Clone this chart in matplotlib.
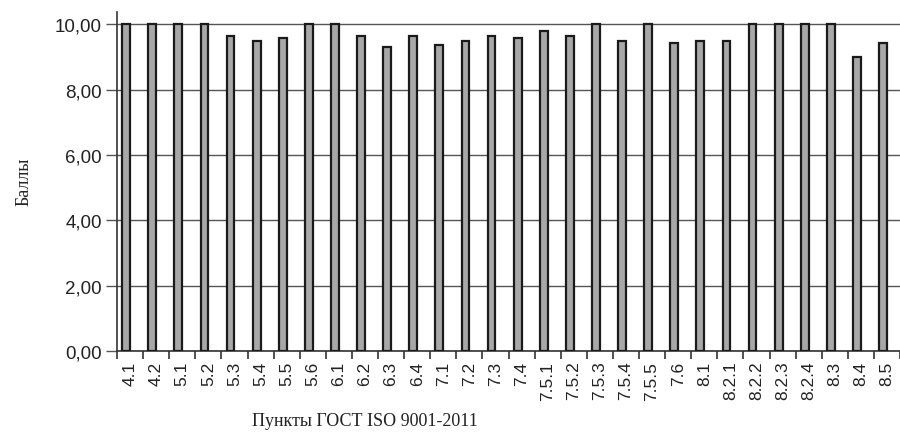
import numpy as np
import matplotlib.pyplot as plt

# пункты стандарта и оценки
items = ["4.1", "4.2", "5.1", "5.2", "5.3", "5.4", "5.5", "5.6", "6.1", "6.2",
         "6.3", "6.4", "7.1", "7.2", "7.3", "7.4", "7.5.1", "7.5.2", "7.5.3", "7.5.4",
         "7.5.5", "7.6", "8.1", "8.2.1", "8.2.2", "8.2.3", "8.2.4", "8.3", "8.4", "8.5"]
scores = [10.0, 10.0, 10.0, 10.0, 9.64, 9.49, 9.59, 10.0, 10.0, 9.64,
          9.31, 9.64, 9.38, 9.50, 9.64, 9.59, 9.80, 9.64, 10.0, 9.50,
          10.0, 9.42, 9.50, 9.50, 10.0, 10.0, 10.0, 10.0, 8.99, 9.42]
yticks = [0, 2, 4, 6, 8, 10]

fig = plt.figure(figsize=(9, 4.35), dpi=100)
ax = fig.add_axes([0.13, 0.191, 0.87, 0.78])

x = np.arange(len(items))
ax.bar(x - 0.15, scores, width=0.3, color="#a8a8a8", edgecolor="#1a1a1a",
       linewidth=1.6, zorder=3)

ax.set_xlim(-0.5, len(items) - 0.5)
ax.set_ylim(0, 10.39)
ax.set_yticks(yticks)
ax.set_yticklabels([f"{v:.2f}".replace(".", ",") for v in yticks],
                   fontsize=13.5, family="Liberation Sans", color="#222222")
ax.yaxis.grid(True, color="#555555", linewidth=1.0, zorder=0)
ax.tick_params(axis="y", length=8, width=1.0, color="#555555", pad=3)

ax.set_xticks(x)
ax.set_xticklabels(items, rotation=90, fontsize=12.5, family="Liberation Sans",
                   color="#222222")
ax.set_xticks(np.arange(len(items) + 1) - 0.5, minor=True)
ax.tick_params(axis="x", which="major", length=0, pad=7)
ax.tick_params(axis="x", which="minor", length=6, width=1.2, color="#333333")

for side in ["top", "right"]:
    ax.spines[side].set_visible(False)
ax.spines["left"].set_color("#333333")
ax.spines["bottom"].set_color("#333333")
ax.spines["left"].set_linewidth(1.2)
ax.spines["bottom"].set_linewidth(1.2)

ax.set_ylabel("Баллы", family="Liberation Serif", fontsize=13, labelpad=16,
              color="#222222")
fig.text(0.405, 0.03, "Пункты ГОСТ ISO 9001-2011", ha="center", va="center",
         family="Liberation Serif", fontsize=13, color="#222222")

fig.savefig("out.png", dpi=100, facecolor="white")
